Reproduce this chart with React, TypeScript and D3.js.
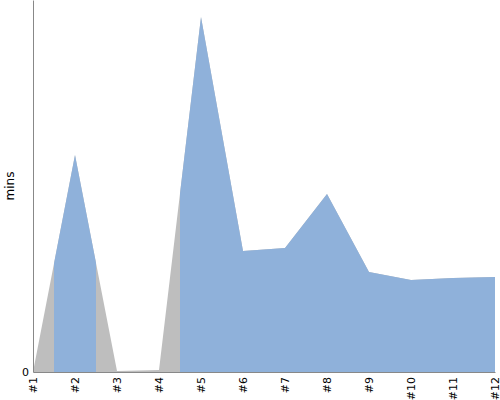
import * as d3 from 'd3';
import React, { useEffect, useRef } from 'react';

const labels = ['#1', '#2', '#3', '#4', '#5', '#6', '#7', '#8', '#9', '#10', '#11', '#12'];
const minutes = [0, 21.7, 0.1, 0.2, 35.5, 12.1, 12.4, 17.8, 10.0, 9.2, 9.4, 9.5];
const highlighted = ['#2', '#5', '#6', '#7', '#8', '#9', '#10', '#11', '#12'];
const yTicks = [0];

const width = 500;
const height = 400;

export default function App() {
  const svgRef = useRef<SVGSVGElement>(null);

  useEffect(() => {
    if (!svgRef.current) return;
    const svg = d3.select(svgRef.current);
    svg.selectAll('*').remove();

    const margin = { top: 0, right: 5, bottom: 28, left: 33 };
    const innerWidth = width - margin.left - margin.right;
    const innerHeight = height - margin.top - margin.bottom;

    const x = d3.scalePoint<string>().domain(labels).range([0, innerWidth]);
    const y = d3.scaleLinear().domain([0, 37.2]).range([innerHeight, 0]);
    const step = x.step();

    const data = labels.map((l, i) => ({ label: l, value: minutes[i] }));

    const area = d3.area<{ label: string; value: number }>()
      .x(d => x(d.label) || 0)
      .y0(innerHeight)
      .y1(d => y(d.value));

    const g = svg.append('g').attr('transform', `translate(${margin.left},${margin.top})`);

    // clip for highlighted bands
    const clip = svg.append('defs').append('clipPath').attr('id', 'hl-clip');
    clip.selectAll('rect')
      .data(highlighted)
      .join('rect')
      .attr('x', d => Math.max(0, (x(d) || 0) - step / 2))
      .attr('width', d => Math.min(innerWidth, (x(d) || 0) + step / 2) - Math.max(0, (x(d) || 0) - step / 2))
      .attr('y', 0)
      .attr('height', innerHeight);

    g.append('path')
      .datum(data)
      .attr('d', area)
      .attr('fill', '#bebebe');

    g.append('path')
      .datum(data)
      .attr('d', area)
      .attr('fill', '#8fb1da')
      .attr('clip-path', 'url(#hl-clip)');

    // axes
    const xAxis = g.append('g')
      .attr('transform', `translate(0,${innerHeight})`)
      .call(d3.axisBottom(x).tickSize(0).tickSizeOuter(0));
    xAxis.select('.domain').attr('stroke', '#888');
    xAxis.selectAll('text')
      .attr('transform', 'rotate(-90)')
      .attr('text-anchor', 'end')
      .attr('x', -5)
      .attr('y', 0)
      .attr('dy', '0.35em')
      .style('font-family', 'DejaVu Sans, sans-serif')
      .style('font-size', '11px')
      .attr('fill', '#000');

    const yAxis = g.append('g')
      .call(d3.axisLeft(y).tickValues(yTicks).tickSize(0).tickPadding(4).tickSizeOuter(0));
    yAxis.select('.domain').attr('stroke', '#888');
    yAxis.selectAll('text')
      .style('font-family', 'DejaVu Sans, sans-serif')
      .style('font-size', '11px')
      .attr('fill', '#000');

    svg.append('text')
      .attr('transform', `translate(14,${innerHeight / 2}) rotate(-90)`)
      .attr('text-anchor', 'middle')
      .style('font-family', 'DejaVu Sans, sans-serif')
      .style('font-size', '12px')
      .text('mins');
  }, []);

  return (
    <div style={{ position: 'absolute', left: 0, top: 0 }}>
      <svg ref={svgRef} width={width} height={height} style={{ display: 'block' }} />
    </div>
  );
}
